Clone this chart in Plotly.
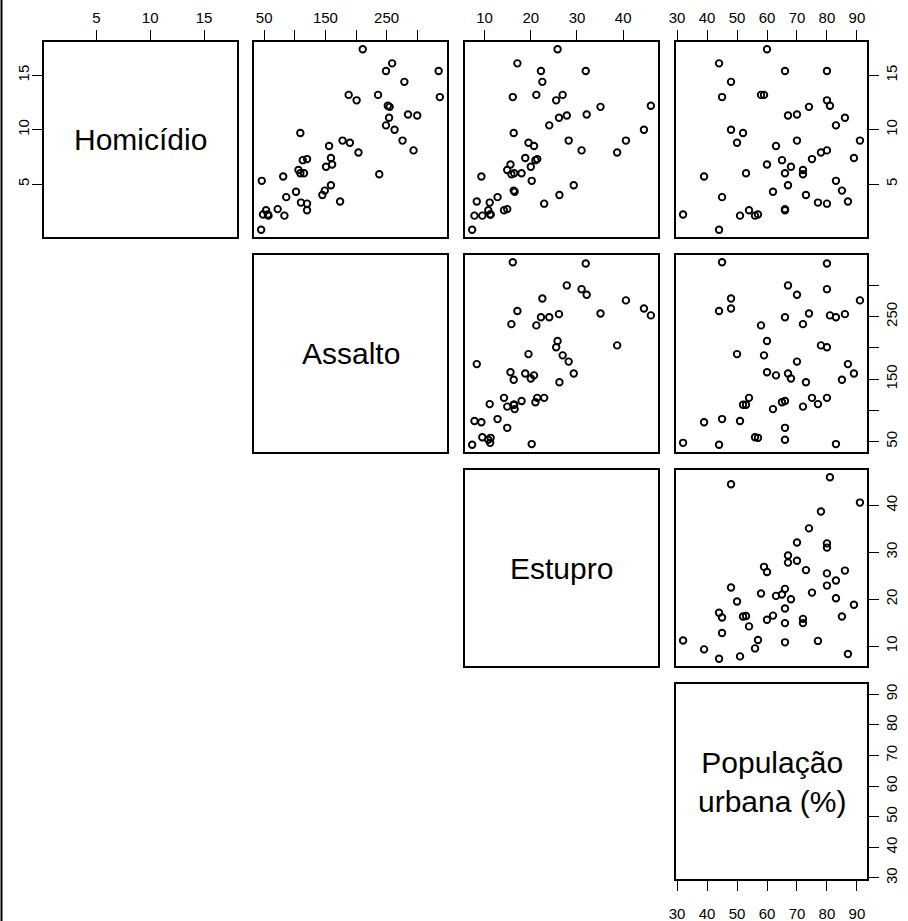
import plotly.graph_objects as go

# USArrests data (state order)
murder = [13.2,10.0,8.1,8.8,9.0,7.9,3.3,5.9,15.4,17.4,5.3,2.6,10.4,7.2,2.2,6.0,9.7,15.4,2.1,11.3,
          4.4,12.1,2.7,16.1,9.0,6.0,4.3,12.2,2.1,7.4,11.4,11.1,13.0,0.8,7.3,6.6,4.9,6.3,3.4,14.4,
          3.8,13.2,12.7,3.2,2.2,8.5,4.0,5.7,2.6,6.8]
assault = [236,263,294,190,276,204,110,238,335,211,46,120,249,113,56,115,109,249,83,300,
           149,255,72,259,178,109,102,252,57,159,285,254,337,45,120,151,159,106,174,279,
           86,188,201,120,48,156,145,81,53,161]
rape = [21.2,44.5,31.0,19.5,40.6,38.7,11.1,15.8,31.9,25.8,20.2,14.2,24.0,21.0,11.3,18.0,16.3,22.2,7.8,27.8,
        16.3,35.1,14.9,17.1,28.2,16.4,16.5,46.0,9.5,18.8,32.1,26.1,16.1,7.3,21.4,20.0,29.3,14.9,8.3,22.5,
        12.8,26.9,25.5,22.9,11.2,20.7,26.2,9.3,10.8,15.6]
urbanpop = [58,48,80,50,91,78,77,72,80,60,83,54,83,65,57,66,52,66,51,67,
            85,74,66,44,70,53,62,81,56,89,70,86,45,44,75,68,67,72,87,48,
            45,59,80,80,32,63,73,39,66,60]

var_labels = ["Homicídio", "Assalto", "Estupro", "População<br>urbana (%)"]
murder_ticks = [5, 10, 15]
murder_ticktext = ["5", "10", "15"]
assault_ticks = [50, 100, 150, 200, 250, 300]
assault_ticktext = ["50", "", "150", "", "250", ""]
rape_ticks = [10, 20, 30, 40]
rape_ticktext = ["10", "20", "30", "40"]
urban_ticks = [30, 40, 50, 60, 70, 80, 90]
urban_ticktext = ["30", "40", "50", "60", "70", "80", "90"]

data = [murder, assault, rape, urbanpop]
ticks = [(murder_ticks, murder_ticktext), (assault_ticks, assault_ticktext),
         (rape_ticks, rape_ticktext), (urban_ticks, urban_ticktext)]

W, H = 908, 921
cols_px = [(44, 237), (254, 447), (465, 658), (676, 867)]
rows_px = [(42, 237), (255, 452), (470, 666), (684, 879)]

def rng(v):
    lo, hi = min(v), max(v)
    e = (hi - lo) * 0.04
    return [lo - e, hi + e]

FONT = "Liberation Sans, Arial, sans-serif"
fig = go.Figure()
layout = dict(width=W, height=H, margin=dict(l=0, r=0, t=0, b=0, pad=0, autoexpand=False),
              paper_bgcolor="white", plot_bgcolor="white", showlegend=False,
              annotations=[], shapes=[])

k = 0
for i in range(4):
    for j in range(i, 4):
        k += 1
        xname = "xaxis" if k == 1 else f"xaxis{k}"
        yname = "yaxis" if k == 1 else f"yaxis{k}"
        xref = "x" if k == 1 else f"x{k}"
        yref = "y" if k == 1 else f"y{k}"
        x0, x1 = cols_px[j]
        y0, y1 = rows_px[i]
        xdom = [x0 / W, x1 / W]
        ydom = [1 - y1 / H, 1 - y0 / H]

        common = dict(showgrid=False, zeroline=False, showline=True, mirror=True,
                      linecolor="black", linewidth=1.5, automargin=False,
                      ticklabeloverflow="allow",
                      tickfont=dict(family=FONT, size=15, color="black"), fixedrange=True)
        xa = dict(domain=xdom, anchor=yref, range=rng(data[j]), **common)
        ya = dict(domain=ydom, anchor=xref, range=rng(data[i]), **common)

        # x-axis ticks
        if i == 0 or (i == 3 and j == 3):
            tv, tt = ticks[j]
            xa.update(tickmode="array", tickvals=tv, ticktext=tt, ticks="outside",
                      ticklen=10, tickwidth=1.2, tickcolor="black", showticklabels=True,
                      side="top" if i == 0 else "bottom",
                      ticklabelstandoff=1 if i == 0 else 10)
        else:
            xa.update(ticks="", showticklabels=False)
        # y-axis ticks
        if j == 3 or (i == 0 and j == 0):
            tv, tt = ticks[i]
            ya.update(tickmode="array", tickvals=tv, ticktext=tt, ticks="outside",
                      ticklen=10, tickwidth=1.2, tickcolor="black", showticklabels=True,
                      side="right" if j == 3 else "left", tickangle=-90,
                      ticklabelstandoff=0 if j == 3 else -3)
        else:
            ya.update(ticks="", showticklabels=False)

        layout[xname] = xa
        layout[yname] = ya

        if i == j:
            layout["annotations"].append(dict(
                x=(x0 + x1) / 2 / W, y=1 - (y0 + y1) / 2 / H, xref="paper", yref="paper",
                text=var_labels[i], showarrow=False, xanchor="center", yanchor="middle",
                font=dict(family=FONT, size=30, color="black")))
            fig.add_trace(go.Scatter(x=[], y=[], xaxis=xref, yaxis=yref, mode="markers"))
        else:
            fig.add_trace(go.Scatter(
                x=data[j], y=data[i], xaxis=xref, yaxis=yref, mode="markers",
                marker=dict(symbol="circle-open", size=6.5, color="black",
                            line=dict(width=1.9, color="black")),
                hoverinfo="x+y"))

layout["shapes"].append(dict(type="line", xref="paper", yref="paper",
                             x0=1.5 / W, x1=1.5 / W, y0=0, y1=1,
                             line=dict(color="black", width=2)))

fig.update_layout(**layout)
fig.write_html("out.html", config={"displayModeBar": False},
               post_script="document.body.style.margin='0';document.body.style.overflow='hidden';")
